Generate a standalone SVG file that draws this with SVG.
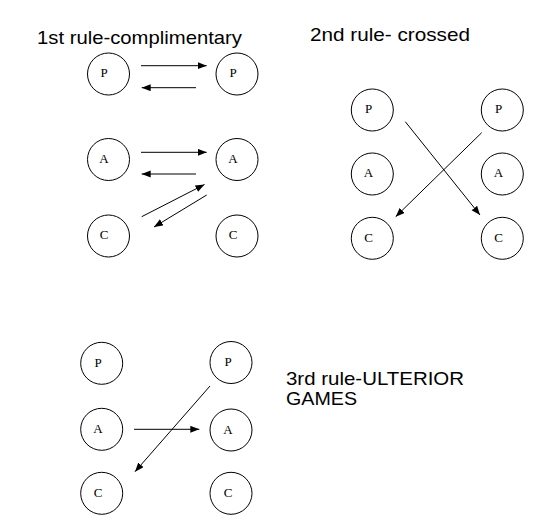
<svg xmlns="http://www.w3.org/2000/svg" width="539" height="524" viewBox="0 0 539 524">
<style>
.n circle{fill:none;stroke:#000;stroke-width:1}
.n text{font-family:"Liberation Serif","Times New Roman",serif;font-size:13px;fill:#000;text-anchor:middle}
.t{font-family:"Liberation Sans",Arial,sans-serif;font-size:19px;fill:#000}
#connectors line{stroke:#000;stroke-width:1;marker-end:url(#ah)}
</style>
<defs>
<marker id="ah" markerUnits="userSpaceOnUse" markerWidth="10" markerHeight="8" refX="9" refY="3.5" orient="auto">
<path d="M0,0 L9,3.5 L0,7 z" fill="#000"/>
</marker>
</defs>
<rect width="539" height="524" fill="#fff"/>
<text class="t" x="37" y="44" textLength="205" lengthAdjust="spacingAndGlyphs">1st rule-complimentary</text>
<text class="t" x="310" y="41" textLength="160" lengthAdjust="spacingAndGlyphs">2nd rule- crossed</text>
<text class="t" x="286" y="385" textLength="178" lengthAdjust="spacingAndGlyphs">3rd rule-ULTERIOR</text>
<text class="t" x="286" y="405" textLength="71" lengthAdjust="spacingAndGlyphs">GAMES</text>

<g id="r1-P-left" class="n"><circle cx="108.5" cy="74" r="21"/><text x="104" y="77">P</text></g>
<g id="r1-P-right" class="n"><circle cx="237" cy="74" r="21"/><text x="233" y="77">P</text></g>
<g id="r1-A-left" class="n"><circle cx="108.5" cy="159.5" r="21"/><text x="104" y="163">A</text></g>
<g id="r1-A-right" class="n"><circle cx="237" cy="159.5" r="21"/><text x="233" y="163">A</text></g>
<g id="r1-C-left" class="n"><circle cx="108.5" cy="236" r="21"/><text x="104" y="239">C</text></g>
<g id="r1-C-right" class="n"><circle cx="237" cy="236" r="21"/><text x="233" y="239">C</text></g>

<g id="r2-P-left" class="n"><circle cx="372.3" cy="110" r="21"/><text x="368.5" y="113">P</text></g>
<g id="r2-P-right" class="n"><circle cx="502.3" cy="110" r="21"/><text x="498.5" y="113">P</text></g>
<g id="r2-A-left" class="n"><circle cx="372.3" cy="174" r="21"/><text x="368.5" y="177">A</text></g>
<g id="r2-A-right" class="n"><circle cx="502.3" cy="174" r="21"/><text x="498.5" y="177">A</text></g>
<g id="r2-C-left" class="n"><circle cx="372.3" cy="238.3" r="21"/><text x="368.5" y="241.5">C</text></g>
<g id="r2-C-right" class="n"><circle cx="502.3" cy="238.3" r="21"/><text x="498.5" y="241.5">C</text></g>

<g id="r3-P-left" class="n"><circle cx="101.7" cy="363.3" r="21"/><text x="98" y="366.5">P</text></g>
<g id="r3-P-right" class="n"><circle cx="231" cy="362.5" r="21"/><text x="228" y="365.5">P</text></g>
<g id="r3-A-left" class="n"><circle cx="101.7" cy="429.3" r="21"/><text x="98" y="433">A</text></g>
<g id="r3-A-right" class="n"><circle cx="231" cy="430" r="21"/><text x="228" y="433.5">A</text></g>
<g id="r3-C-left" class="n"><circle cx="101.7" cy="493.3" r="21"/><text x="98" y="496.5">C</text></g>
<g id="r3-C-right" class="n"><circle cx="231" cy="493.3" r="21"/><text x="228" y="496.5">C</text></g>

<g id="connectors">
<line x1="141" y1="65.7" x2="206.7" y2="65.7"/>
<line x1="196" y1="87.7" x2="141.7" y2="87.7"/>
<line x1="141" y1="152.3" x2="206.7" y2="152.3"/>
<line x1="196" y1="174" x2="141.7" y2="174"/>
<line x1="141.7" y1="216.7" x2="204.5" y2="184.5"/>
<line x1="206.7" y1="195" x2="154" y2="227"/>
<line x1="405.3" y1="121.7" x2="480" y2="215"/>
<line x1="481.7" y1="132.7" x2="395.7" y2="216.7"/>
<line x1="134" y1="429.3" x2="199.3" y2="429.3"/>
<line x1="210" y1="386" x2="135" y2="471.7"/>
</g>
</svg>
